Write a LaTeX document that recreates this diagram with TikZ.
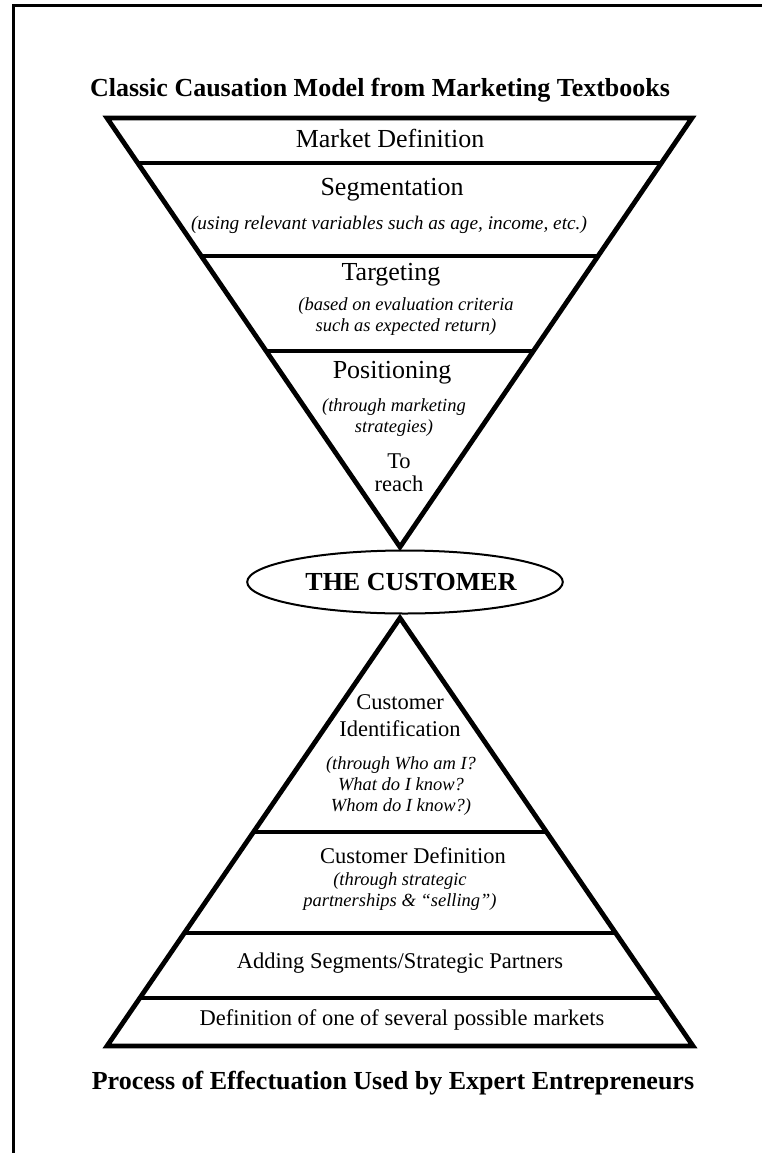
\documentclass[tikz,border=0pt]{standalone}
\usepackage{fontspec}
\setmainfont{Liberation Serif}
\usetikzlibrary{calc,shapes.geometric}
\begin{document}
\begin{tikzpicture}[x=1pt,y=-1pt,
  edge/.style={line width=4.8pt, line join=miter, line cap=butt},
  divider/.style={line width=4pt},
  frame/.style={line width=3pt},
  head/.style={font=\fontsize{26}{30}\selectfont\bfseries},
  big/.style={font=\fontsize{26}{30}\selectfont},
  mid/.style={font=\fontsize{22.5}{27}\selectfont, align=center},
  note/.style={font=\fontsize{18.5}{21}\selectfont\itshape, align=center},
  every node/.style={inner sep=0pt}]
\useasboundingbox (0,0) rectangle (762,1153);

% page frame (top and left rules)
\draw[frame] (13.5,1153) -- (13.5,5.5) -- (762,5.5);

% funnel of the causation model
\coordinate (tl) at (107,118);
\coordinate (tr) at (692,118);
\coordinate (ta) at (400,547);
\draw[edge] (tl) -- (tr) -- (ta) -- cycle;
\foreach \t/\n in {0.1049/a, 0.3217/b, 0.5431/c}{
  \coordinate (ul\n) at ($(tl)!\t!(ta)$);
  \coordinate (ur\n) at ($(tr)!\t!(ta)$);
  \draw[divider] (ul\n) -- (ur\n);
}

% pyramid of the effectuation process
\coordinate (ba) at (400,618);
\coordinate (bl) at (107,1046);
\coordinate (br) at (693,1046);
\draw[edge] (bl) -- (br) -- (ba) -- cycle;
\foreach \t/\n in {0.5/a, 0.736/b, 0.888/c}{
  \coordinate (ll\n) at ($(ba)!\t!(bl)$);
  \coordinate (lr\n) at ($(ba)!\t!(br)$);
  \draw[divider] (ll\n) -- (lr\n);
}

% titles
\node[head] (top) at (380,90) {Classic Causation Model from Marketing Textbooks};
\node[head] (bottom) at (393,1083) {Process of Effectuation Used by Expert Entrepreneurs};

% causation levels
\node[big] (mkt) at (390,138) {Market Definition};
\node[big] (seg) at (392,190) {Segmentation};
\node[note, font=\fontsize{19.3}{22}\selectfont\itshape] (segn) at (389,225) {(using relevant variables such as age, income, etc.)};
\node[big] (tgt) at (391,275) {Targeting};
\node[note] (tgtn) at (406,317) {(based on evaluation criteria\\such as expected return)};
\node[big] (pos) at (392,373) {Positioning};
\node[note] (posn) at (394,418) {(through marketing\\strategies)};
\node[mid, font=\fontsize{22.5}{23}\selectfont] (reach) at (399,473) {To\\reach};

% the customer
\node[ellipse, draw, line width=2pt, minimum width=310pt, minimum height=63pt,
      font=\fontsize{26}{30}\selectfont\bfseries] (cust) at (405,582) {\hspace*{12pt}THE CUSTOMER};

% effectuation levels
\node[mid] (cid) at (400,716) {Customer\\Identification};
\node[note] (cidn) at (401,786) {(through Who am I?\\What do I know?\\Whom do I know?)};
\node[mid] (cdef) at (413,856) {Customer Definition};
\node[note] (cdefn) at (400,892) {(through strategic\\partnerships \& “selling”)};
\node[mid] (add) at (400,963) {Adding Segments/Strategic Partners};
\node[mid] (def) at (402,1020) {Definition of one of several possible markets};
\end{tikzpicture}
\end{document}
